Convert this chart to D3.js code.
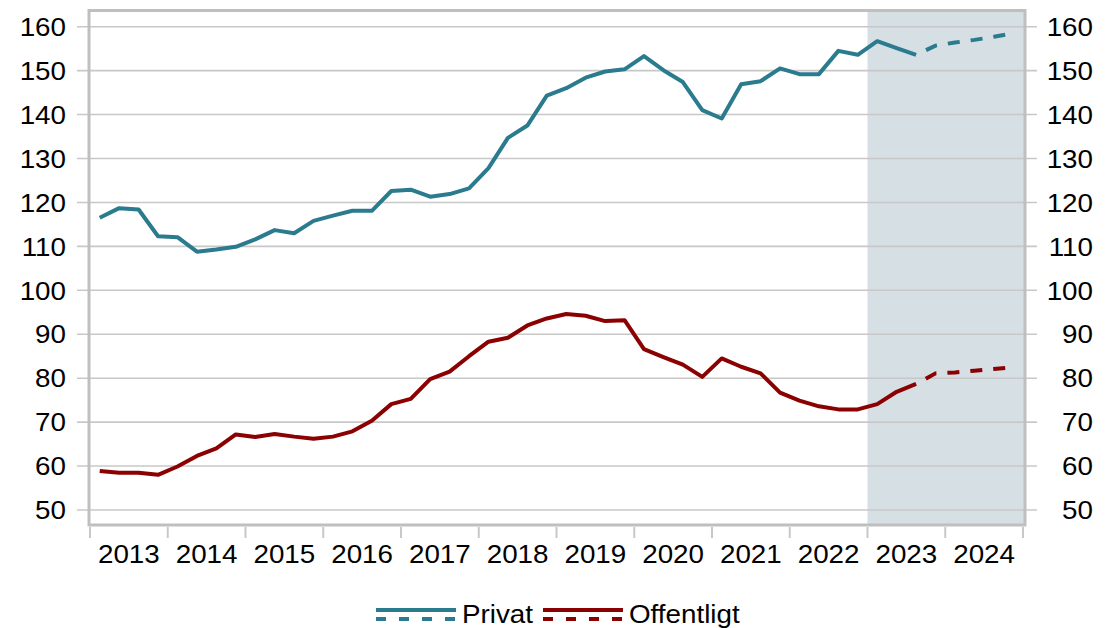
<!DOCTYPE html>
<html><head><meta charset="utf-8">
<script src="https://cdn.jsdelivr.net/npm/d3@7"></script>
<style>body{margin:0;background:#fff}svg{display:block}text{font-family:"Liberation Sans",Arial,sans-serif;fill:#000}</style>
</head><body><svg id="c" width="1119" height="628"></svg>
<script>
// Quarterly data 2013Q1 – 2024Q4
const startYear = 2013;
const privat = [116.5,118.7,118.4,112.3, 112.1,108.8,109.3,109.9, 111.6,113.7,113.0,115.8,
  117.0,118.1,118.1,122.6, 122.9,121.3,121.9,123.2, 127.8,134.7,137.5,144.3,
  146.0,148.4,149.8,150.3, 153.3,150.1,147.4,141.0, 139.1,146.9,147.6,150.5,
  149.2,149.2,154.5,153.6, 156.7,155.1,153.6,155.7, 156.4,157.0,157.7,158.5];
const offentligt = [58.9,58.5,58.5,58.0, 59.9,62.3,64.0,67.2, 66.6,67.3,66.7,66.2,
  66.7,67.9,70.3,74.1, 75.3,79.8,81.5,85.0, 88.3,89.2,92.0,93.6,
  94.6,94.2,93.0,93.2, 86.6,84.8,83.1,80.3, 84.5,82.6,81.1,76.7,
  74.9,73.6,72.9,72.9, 74.1,76.9,78.7,81.1, 81.3,81.7,82.1,82.5];
const lastActual = 42; // index of 2023Q3, last observed quarter
const forecastStart = 2023;
const yTicks = [50,60,70,80,90,100,110,120,130,140,150,160];
const yearLabels = ["2013","2014","2015","2016","2017","2018","2019","2020","2021","2022","2023","2024"];
const seriesNames = ["Privat","Offentligt"];
const colors = ["#2b7b8e","#8b0000"];

const svg = d3.select("#c");
const x = d3.scaleLinear().domain([2013,2025]).range([90,1023]);
const y = d3.scaleLinear().domain([50,160]).range([510,26.7]);
const fx = {l:89, r:1025, t:10.5, b:525};
const grid = "#c8c8c8", frame = "#bfbfbf";
const FS = 25.5, SX = 1.09;
const tf = (px, py) => `translate(${px},${py}) scale(${SX},1)`;

// forecast shading
svg.append("rect").attr("x", x(forecastStart)).attr("y", fx.t).attr("width", fx.r - x(forecastStart)).attr("height", fx.b - fx.t).attr("fill", "#d5dfe4");

// gridlines with ticks on both sides
svg.append("g").selectAll("line").data(yTicks).join("line")
  .attr("x1", 77).attr("x2", 1037).attr("y1", d => y(d)).attr("y2", d => y(d))
  .attr("stroke", grid).attr("stroke-width", 1.6);

// y labels
const lab = svg.append("g").attr("font-size", FS);
lab.selectAll("text.l").data(yTicks).join("text").attr("class","l")
  .attr("transform", d => tf(66, y(d))).attr("dy", "0.36em").attr("text-anchor","end").text(d => d);
lab.selectAll("text.r").data(yTicks).join("text").attr("class","r")
  .attr("transform", d => tf(1093, y(d))).attr("dy", "0.36em").attr("text-anchor","end").text(d => d);

// frame
svg.append("rect").attr("x", fx.l).attr("y", fx.t).attr("width", fx.r - fx.l).attr("height", fx.b - fx.t)
  .attr("fill","none").attr("stroke", frame).attr("stroke-width", 3);

// x ticks
const years = d3.range(2013, 2026);
svg.append("g").selectAll("line").data(years).join("line")
  .attr("x1", d => x(d)).attr("x2", d => x(d)).attr("y1", 527).attr("y2", 538)
  .attr("stroke", grid).attr("stroke-width", 2);
lab.selectAll("text.x").data(yearLabels).join("text").attr("class","x")
  .attr("transform", d => tf(x(+d + 0.5), 563)).attr("text-anchor","middle").text(d => d);

// lines
const t = i => startYear + (i + 0.5) / 4;
const line = d3.line().x(d => x(t(d.i))).y(d => y(d.v));
[privat, offentligt].forEach((s, k) => {
  const pts = s.map((v, i) => ({i, v}));
  svg.append("path").attr("d", line(pts.slice(0, lastActual + 1))).attr("fill","none")
    .attr("stroke", colors[k]).attr("stroke-width", 4).attr("stroke-linejoin","round");
  svg.append("path").attr("d", line(pts.slice(lastActual))).attr("fill","none")
    .attr("stroke", colors[k]).attr("stroke-width", 4)
    .attr("stroke-dasharray","12,11").attr("stroke-dashoffset", 12);
});

// legend
const lg = [{x:376, tx:462}, {x:543, tx:629}];
seriesNames.forEach((n, k) => {
  const g = svg.append("g");
  g.append("line").attr("x1", lg[k].x).attr("x2", lg[k].x + 80).attr("y1", 610).attr("y2", 610)
    .attr("stroke", colors[k]).attr("stroke-width", 4);
  g.append("line").attr("x1", lg[k].x).attr("x2", lg[k].x + 80).attr("y1", 619).attr("y2", 619)
    .attr("stroke", colors[k]).attr("stroke-width", 4).attr("stroke-dasharray","10,13");
  g.append("text").attr("transform", tf(lg[k].tx, 623)).attr("font-size", FS).text(n);
});
</script></body></html>
